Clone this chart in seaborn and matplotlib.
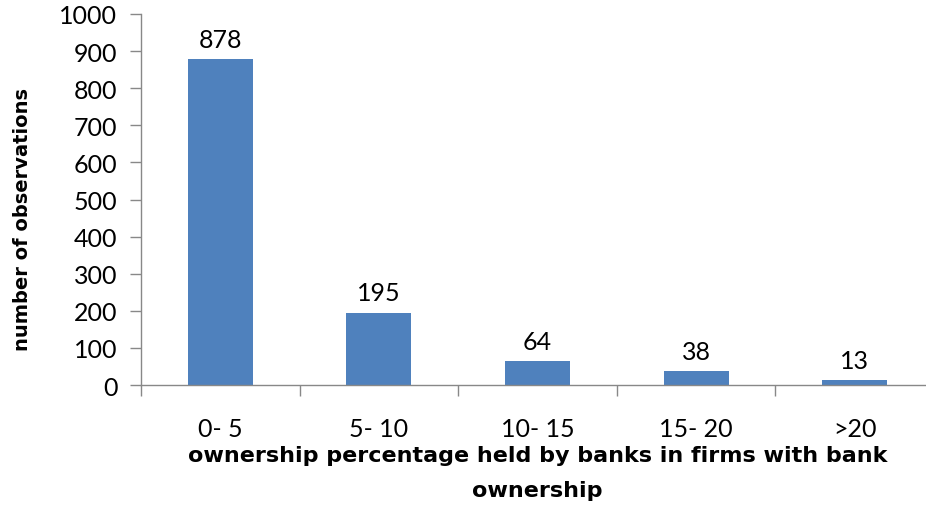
import matplotlib
matplotlib.use("Agg")
import matplotlib.pyplot as plt
import seaborn as sns
import pandas as pd

categories = ["0- 5", "5- 10", "10- 15", "15- 20", ">20"]
values = [878, 195, 64, 38, 13]
yticks = [0, 100, 200, 300, 400, 500, 600, 700, 800, 900, 1000]

sns.set_style("white")
plt.rcParams["font.family"] = ["Lato", "DejaVu Sans"]
plt.rcParams["text.color"] = "black"
plt.rcParams["xtick.color"] = "#888888"
plt.rcParams["ytick.color"] = "#888888"
plt.rcParams["xtick.labelcolor"] = "black"
plt.rcParams["ytick.labelcolor"] = "black"

df = pd.DataFrame({"cat": categories, "val": values})

fig = plt.figure(figsize=(9.26, 5.06), dpi=100)
ax = fig.add_axes([141/926, 1-386/506, (934-141)/926, (386-15)/506])
sns.barplot(data=df, x="cat", y="val", color="#4F81BD", saturation=1,
            width=0.41, linewidth=0, ax=ax)

ax.set_ylim(0, 1000)
ax.set_xlim(-0.5, len(categories) - 0.5)
ax.set_yticks(yticks)
ax.set_yticklabels([str(t) for t in yticks], fontsize=18)
ax.set_xticks(range(len(categories)))
ax.set_xticklabels(categories, fontsize=18)
ax.set_xticks([i - 0.5 for i in range(len(categories) + 1)], minor=True)
ax.tick_params(axis="x", which="major", length=0, pad=23, bottom=True)
ax.tick_params(axis="x", which="minor", length=8, width=1, bottom=True)
ax.tick_params(axis="y", which="major", length=8, width=1, pad=9, left=True)

for s in ["top", "right"]:
    ax.spines[s].set_visible(False)
for s in ["left", "bottom"]:
    ax.spines[s].set_color("#888888")
    ax.spines[s].set_linewidth(1)

for c in ax.containers:
    ax.bar_label(c, labels=[str(v) for v in values], padding=6, fontsize=18,
                 color="black")

ax.set_ylabel("")
fig.text(23/926, 1-220/506, "number of observations", rotation=90,
         fontsize=14, fontweight="bold", family=["DejaVu Sans"],
         ha="center", va="center", color="black")
ax.set_xlabel("ownership percentage held by banks in firms with bank\nownership",
              fontsize=16, fontweight="bold", family=["DejaVu Sans"],
              linespacing=1.9, labelpad=4, color="black")

fig.savefig("out.png", dpi=100)
